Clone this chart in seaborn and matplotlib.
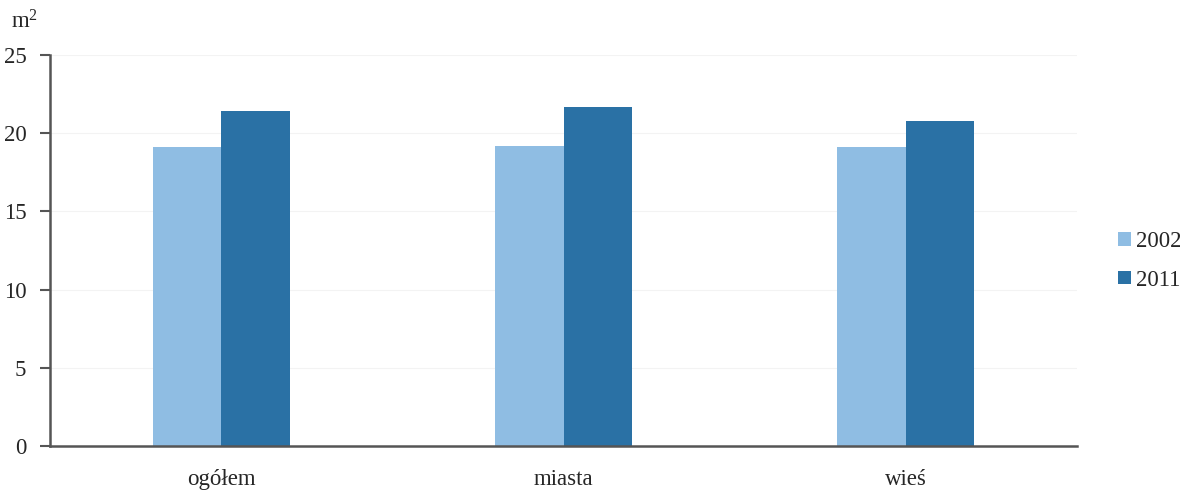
import matplotlib
matplotlib.use("Agg")
import matplotlib.pyplot as plt
import seaborn as sns
import pandas as pd

categories = ["ogółem", "miasta", "wieś"]
years = ["2002", "2011"]
values_2002 = [19.1, 19.2, 19.1]
values_2011 = [21.4, 21.7, 20.8]
colors = ["#8FBDE3", "#2A71A5"]

df = pd.DataFrame({
    "cat": categories * 2,
    "year": [years[0]] * 3 + [years[1]] * 3,
    "val": values_2002 + values_2011,
})

sns.set_style("white")
plt.rcParams["font.family"] = ["Liberation Serif", "DejaVu Serif"]
plt.rcParams["mathtext.fontset"] = "custom"
plt.rcParams["mathtext.rm"] = "Liberation Serif"

fig = plt.figure(figsize=(11.8, 4.91), dpi=100)
ax = fig.add_axes([0.0424, 0.0916, 0.8703, 0.7964])

sns.barplot(data=df, x="cat", y="val", hue="year", order=categories,
            hue_order=years, palette=colors, width=0.4, saturation=1,
            linewidth=0, ax=ax, legend=True)

ax.set_xlim(-0.5, 2.5)
ax.set_ylim(0, 25)
ax.set_yticks([0, 5, 10, 15, 20, 25])
ax.yaxis.grid(True, color="#F3F3F3", linewidth=0.8)
ax.set_axisbelow(True)
ax.set_xlabel("")
ax.set_ylabel("")
for s in ["top", "right"]:
    ax.spines[s].set_visible(False)
for s in ["left", "bottom"]:
    ax.spines[s].set_color("#555555")
    ax.spines[s].set_linewidth(1.8)
ax.tick_params(axis="y", which="both", left=True, length=7, width=1.5,
               color="#555555", labelsize=16.5, pad=10)
ax.tick_params(axis="x", bottom=False, labelsize=16.5, pad=13)

ax.text(-0.012, 1.085, r"m$\mathrm{^2}$", transform=ax.transAxes,
        fontsize=16.5, ha="right", va="center")

handles, labels = ax.get_legend_handles_labels()
ax.get_legend().remove()
fig.legend(handles, labels, loc="center left",
           bbox_to_anchor=(1118 / 1180, 1 - 261 / 491),
           frameon=False, fontsize=16.5, handlelength=0.55, handleheight=0.55,
           handletextpad=0.25, labelspacing=0.75, borderaxespad=0,
           borderpad=0)

fig.savefig("out.png", dpi=100)
